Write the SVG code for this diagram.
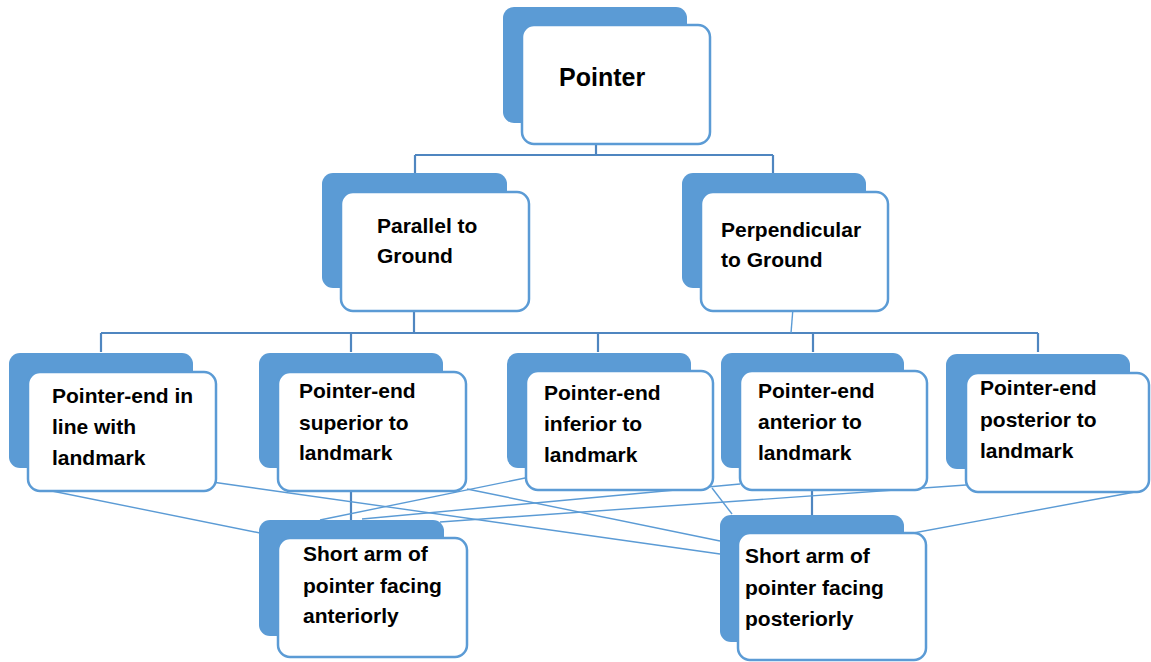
<svg xmlns="http://www.w3.org/2000/svg" width="1151" height="662" viewBox="0 0 1151 662">
<style>
.back{fill:#5b9bd5;}
.front{fill:#ffffff;stroke:#5b9bd5;stroke-width:2.5;}
.t{font-family:"Liberation Sans",Arial,sans-serif;font-weight:bold;font-size:21px;fill:#000;}
.tree{stroke:#4f86c0;stroke-width:2.2;fill:none;}
.thin{stroke:#5b9bd5;stroke-width:1.4;fill:none;}
</style>
<rect width="1151" height="662" fill="#ffffff"/>
<g id="connectors">
<path class="tree" d="M596,144V155M415,155H773M415,155V173M773,155V173"/>
<path class="tree" d="M414,311V333M101,333H1038M101,333V352M351,333V352M598,333V352M813,333V352M1038,333V352"/>
<path class="tree" d="M351,491V520M812,490V515"/>
<line class="thin" x1="793" y1="308" x2="791" y2="333"/>
<line class="thin" x1="32" y1="487" x2="260" y2="533"/>
<line class="thin" x1="212" y1="482" x2="720" y2="554"/>
<line class="thin" x1="467" y1="489" x2="720" y2="541"/>
<line class="thin" x1="530" y1="477" x2="320" y2="520"/>
<line class="thin" x1="740" y1="484" x2="362" y2="519"/>
<line class="thin" x1="966" y1="485" x2="440" y2="522"/>
<line class="thin" x1="712" y1="488" x2="732" y2="514"/>
<line class="thin" x1="1135" y1="492" x2="897" y2="536"/>
</g>
<g id="n-pointer">
<rect class="back" x="503" y="7" width="184" height="116" rx="11"/>
<rect class="front" x="522" y="25" width="188" height="119" rx="12"/>
<text class="t" x="559" y="86" style="font-size:25px">Pointer</text>
</g>
<g id="n-parallel">
<rect class="back" x="322" y="173" width="185" height="115" rx="11"/>
<rect class="front" x="341" y="192" width="188" height="119" rx="12"/>
<text class="t" x="377" y="233">Parallel to</text>
<text class="t" x="377" y="263">Ground</text>
</g>
<g id="n-perpendicular">
<rect class="back" x="682" y="173" width="184" height="115" rx="11"/>
<rect class="front" x="701" y="192" width="187" height="119" rx="12"/>
<text class="t" x="721" y="237">Perpendicular</text>
<text class="t" x="721" y="267">to Ground</text>
</g>
<g id="n-inline">
<rect class="back" x="9" y="353" width="184" height="115" rx="11"/>
<rect class="front" x="28" y="372" width="188" height="119" rx="12"/>
<text class="t" x="52" y="403">Pointer-end in</text>
<text class="t" x="52" y="434">line with</text>
<text class="t" x="52" y="465">landmark</text>
</g>
<g id="n-superior">
<rect class="back" x="259" y="353" width="184" height="115" rx="11"/>
<rect class="front" x="278" y="372" width="188" height="119" rx="12"/>
<text class="t" x="299" y="398">Pointer-end</text>
<text class="t" x="299" y="430">superior to</text>
<text class="t" x="299" y="460">landmark</text>
</g>
<g id="n-inferior">
<rect class="back" x="507" y="353" width="184" height="115" rx="11"/>
<rect class="front" x="526" y="371" width="187" height="119" rx="12"/>
<text class="t" x="544" y="400">Pointer-end</text>
<text class="t" x="544" y="431">inferior to</text>
<text class="t" x="544" y="462">landmark</text>
</g>
<g id="n-anterior">
<rect class="back" x="721" y="353" width="183" height="115" rx="11"/>
<rect class="front" x="740" y="371" width="187" height="119" rx="12"/>
<text class="t" x="758" y="398">Pointer-end</text>
<text class="t" x="758" y="429">anterior to</text>
<text class="t" x="758" y="460">landmark</text>
</g>
<g id="n-posterior">
<rect class="back" x="946" y="354" width="184" height="115" rx="11"/>
<rect class="front" x="966" y="373" width="183" height="119" rx="12"/>
<text class="t" x="980" y="395">Pointer-end</text>
<text class="t" x="980" y="427">posterior to</text>
<text class="t" x="980" y="458">landmark</text>
</g>
<g id="n-short-anteriorly">
<rect class="back" x="259" y="520" width="185" height="116" rx="11"/>
<rect class="front" x="278" y="538" width="189" height="119" rx="12"/>
<text class="t" x="303" y="561">Short arm of</text>
<text class="t" x="303" y="593">pointer facing</text>
<text class="t" x="303" y="623">anteriorly</text>
</g>
<g id="n-short-posteriorly">
<rect class="back" x="720" y="515" width="184" height="127" rx="11"/>
<rect class="front" x="738" y="533" width="188" height="127" rx="12"/>
<text class="t" x="745" y="563">Short arm of</text>
<text class="t" x="745" y="595">pointer facing</text>
<text class="t" x="745" y="626">posteriorly</text>
</g>
</svg>
